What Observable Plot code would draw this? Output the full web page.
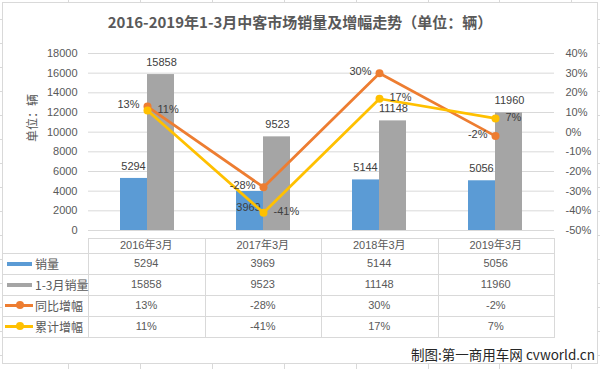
<!DOCTYPE html>
<html>
<head>
<meta charset="utf-8">
<script src="https://cdn.jsdelivr.net/npm/d3@7"></script>
<script src="https://cdn.jsdelivr.net/npm/@observablehq/plot@0.6"></script>
<style>
  body { margin: 0; background: #fff; }
  #wrap { position: relative; width: 600px; height: 369px; overflow: hidden; background: #fff;
          font-family: "Liberation Sans", "Noto Sans CJK SC", sans-serif; color: #595959; }
  .abs { position: absolute; }
  .hl { position: absolute; height: 1px; background: #D9D9D9; }
  .vl { position: absolute; width: 1px; background: #D9D9D9; }
  .cell { position: absolute; text-align: center; font-size: 11px; color: #595959; white-space: nowrap; }
</style>
</head>
<body>
<div id="wrap"></div>
<script>
// ---- data ----
const categories = ["2016年3月", "2017年3月", "2018年3月", "2019年3月"];
const marchSales = [5294, 3969, 5144, 5056];          // 销量
const q1Sales = [15858, 9523, 11148, 11960];          // 1-3月销量
const yoyGrowth = [13, -28, 30, -2];                  // 同比增幅 (%)
const cumGrowth = [11, -41, 17, 7];                   // 累计增幅 (%)
const leftTicks = [0, 2000, 4000, 6000, 8000, 10000, 12000, 14000, 16000, 18000];
const rightTicks = [-50, -40, -30, -20, -10, 0, 10, 20, 30, 40];
const seriesNames = ["销量", "1-3月销量", "同比增幅", "累计增幅"];
const titleText = "2016-2019年1-3月中客市场销量及增幅走势（单位：辆）";
const yTitle = "单位：辆";
const captionText = "制图:第一商用车网 cvworld.cn";

const colors = {blue: "#5B9BD5", gray: "#A5A5A5", orange: "#ED7D31", yellow: "#FFC000"};

// map percent onto the left (volume) scale: -50% -> 0, 40% -> 18000
const pctToY = p => (p + 50) * 200;

const salesData = categories.map((c, i) => ({cat: c, v: marchSales[i]}));
const q1Data = categories.map((c, i) => ({cat: c, v: q1Sales[i]}));
const yoyData = categories.map((c, i) => ({cat: c, p: yoyGrowth[i]}));
const cumData = categories.map((c, i) => ({cat: c, p: cumGrowth[i]}));

const wrap = document.getElementById("wrap");

const chart = Plot.plot({
  width: 600,
  height: 369,
  marginLeft: 88,
  marginRight: 46,
  marginTop: 53,
  marginBottom: 139,
  style: {fontFamily: '"Liberation Sans", "Noto Sans CJK SC", sans-serif', fontSize: "11px", color: "#595959", background: "transparent"},
  x: {type: "band", domain: categories, padding: 0, axis: null},
  y: {domain: [0, 18000], axis: null},
  marks: [
    Plot.gridY(leftTicks, {stroke: "#D9D9D9", strokeOpacity: 1}),
    Plot.axisY(leftTicks, {anchor: "left", tickSize: 0, tickPadding: 11, tickFormat: d => String(d), label: null}),
    Plot.axisY(rightTicks.map(pctToY), {anchor: "right", tickSize: 0, tickPadding: 11,
      tickFormat: v => `${Math.round(v / 200 - 50)}%`, label: null}),
    Plot.text([yTitle], {frameAnchor: "left", text: d => d, rotate: -90, dx: -55, fontSize: 12}),
    Plot.barY(salesData, {x: "cat", y: "v", fill: colors.blue, insetLeft: 31, insetRight: 58}),
    Plot.barY(q1Data, {x: "cat", y: "v", fill: colors.gray, insetLeft: 58, insetRight: 31}),
    Plot.text(salesData.filter(d => d.v > 4500), {x: "cat", y: "v", text: d => String(d.v), dx: -14, dy: -12, fill: "#404040"}),
    Plot.text(salesData.filter(d => d.v <= 4500), {x: "cat", y: "v", text: d => String(d.v), dx: -15, dy: 16, fill: "#404040"}),
    Plot.text(q1Data, {x: "cat", y: "v", text: d => String(d.v), dx: 14, dy: -12, fill: "#404040"}),
    Plot.line(yoyData, {x: "cat", y: d => pctToY(d.p), stroke: colors.orange, strokeWidth: 2.75}),
    Plot.line(cumData, {x: "cat", y: d => pctToY(d.p), stroke: colors.yellow, strokeWidth: 2.75}),
    Plot.dot(yoyData, {x: "cat", y: d => pctToY(d.p), r: 4, fill: colors.orange}),
    Plot.dot(cumData, {x: "cat", y: d => pctToY(d.p), r: 4, fill: colors.yellow}),
    Plot.text(yoyData, {x: "cat", y: d => pctToY(d.p), text: d => `${d.p}%`, textAnchor: "end", dx: -8, dy: -2, fill: "#404040"}),
    Plot.text(cumData, {x: "cat", y: d => pctToY(d.p), text: d => `${d.p}%`, textAnchor: "start", dx: 10, dy: -1, fill: "#404040"})
  ]
});
chart.style.position = "absolute";
chart.style.left = "0px";
chart.style.top = "0px";

function add(cls, css, html) {
  const el = document.createElement("div");
  el.className = cls;
  Object.assign(el.style, css);
  if (html !== undefined) el.textContent = html;
  wrap.appendChild(el);
  return el;
}

// spreadsheet stubs around chart
for (let y = 19; y < 369; y += 24) {
  add("hl", {left: "0px", top: y + "px", width: "3px"});
  add("hl", {left: "597px", top: y + "px", width: "3px"});
}
for (let x = 68; x < 600; x += 71.9) {
  add("vl", {left: Math.round(x) + "px", top: "0px", height: "3px"});
  add("vl", {left: Math.round(x) + "px", top: "363px", height: "6px"});
}
// chart border
add("abs", {left: "2px", top: "2px", width: "594px", height: "360px", border: "1px solid #D9D9D9"});

// title
add("abs", {left: "0px", top: "13px", width: "600px", textAlign: "center", fontSize: "15px", fontWeight: "bold",
  color: "#595959", fontFamily: '"Noto Sans CJK SC", "Liberation Sans", sans-serif', lineHeight: "18px"}, titleText);

wrap.appendChild(chart);

// ---- data table ----
const colX = [88, 204.5, 321, 437.5, 554];
const rowY = [253, 274, 295, 316, 337];
add("hl", {left: "88px", top: "238px", width: "467px"});
rowY.forEach(y => add("hl", {left: "3px", top: y + "px", width: "552px"}));
colX.forEach(x => add("vl", {left: Math.round(x) + "px", top: "238px", height: "100px"}));

categories.forEach((c, i) => {
  add("cell", {left: colX[i] + "px", width: (colX[i + 1] - colX[i]) + "px", top: "238px", height: "15px", lineHeight: "15px"}, c);
});
const tableRows = [
  {name: seriesNames[0], vals: marchSales.map(String), key: "bar", color: colors.blue},
  {name: seriesNames[1], vals: q1Sales.map(String), key: "bar", color: colors.gray},
  {name: seriesNames[2], vals: yoyGrowth.map(v => v + "%"), key: "line", color: colors.orange},
  {name: seriesNames[3], vals: cumGrowth.map(v => v + "%"), key: "line", color: colors.yellow}
];
tableRows.forEach((r, j) => {
  const top = rowY[j];
  r.vals.forEach((v, i) => {
    add("cell", {left: colX[i] + "px", width: (colX[i + 1] - colX[i]) + "px", top: top + "px", height: "21px", lineHeight: "21px"}, v);
  });
  if (r.key === "bar") {
    add("abs", {left: "7px", top: (top + 9) + "px", width: "25px", height: "4px", background: r.color});
  } else {
    add("abs", {left: "5px", top: (top + 9) + "px", width: "28px", height: "3px", background: r.color});
    add("abs", {left: "16px", top: (top + 6) + "px", width: "8px", height: "8px", borderRadius: "50%", background: r.color});
  }
  add("cell", {left: "35px", top: top + "px", height: "21px", lineHeight: "21px", textAlign: "left", fontSize: "12px",
    fontFamily: '"Noto Sans CJK SC", "Liberation Sans", sans-serif'}, r.name);
});

// caption
add("abs", {right: "5px", top: "345px", whiteSpace: "nowrap", fontSize: "13.5px",
  color: "#262626", lineHeight: "18px", fontFamily: '"Noto Sans CJK SC", "Liberation Sans", sans-serif'}, captionText);
</script>
</body>
</html>
